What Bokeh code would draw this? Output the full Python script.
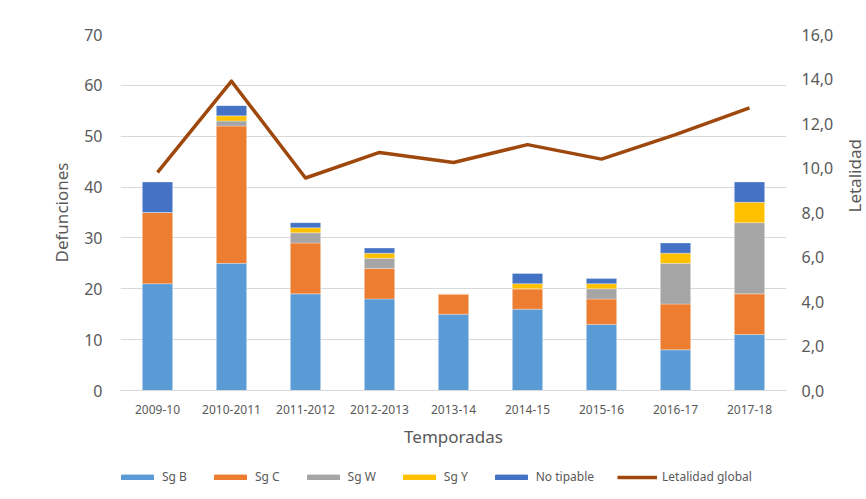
import math
from bokeh.plotting import figure
from bokeh.layouts import column
from bokeh.models import (ColumnDataSource, FactorRange, Range1d, LinearAxis,
                          SingleIntervalTicker, CustomJSTickFormatter, Legend, LegendItem)
from bokeh.embed import file_html
from bokeh.resources import INLINE

temporadas = ["2009-10", "2010-2011", "2011-2012", "2012-2013", "2013-14",
              "2014-15", "2015-16", "2016-17", "2017-18"]
sg_b = [21, 25, 19, 18, 15, 16, 13, 8, 11]
sg_c = [14, 27, 10, 6, 4, 4, 5, 9, 8]
sg_w = [0, 1, 2, 2, 0, 0, 2, 8, 14]
sg_y = [0, 1, 1, 1, 0, 1, 1, 2, 4]
no_tipable = [6, 2, 1, 1, 0, 2, 1, 2, 4]
letalidad = [9.8, 13.9, 9.55, 10.7, 10.25, 11.05, 10.4, 11.5, 12.7]

series = ["Sg B", "Sg C", "Sg W", "Sg Y", "No tipable"]
line_label = "Letalidad global"
colors = ["#5B9BD5", "#ED7D31", "#A5A5A5", "#FFC000", "#4472C4"]
line_color = "#9E480E"

src = ColumnDataSource(dict(x=temporadas, b=sg_b, c=sg_c, w=sg_w, y=sg_y, nt=no_tipable,
                            let=letalidad))

FONT = "Noto Sans"
TXT = "#595959"

p = figure(x_range=FactorRange(*temporadas, range_padding=0), y_range=Range1d(0, 70),
           frame_width=666, frame_height=356, output_backend="svg", toolbar_location=None,
           min_border_left=120, min_border_right=60, min_border_top=34, min_border_bottom=70)
p.extra_y_ranges = {"right": Range1d(0, 16)}

bars = p.vbar_stack(["b", "c", "w", "y", "nt"], x="x", width=0.41, color=colors,
                    line_color="white", line_width=0.5, line_alpha=0.6, source=src)
ln = p.line(x="x", y="let", source=src, y_range_name="right", line_color=line_color,
            line_width=3.5, line_join="round")

p.outline_line_color = None
p.xgrid.grid_line_color = None
p.ygrid.grid_line_color = "#D9D9D9"
p.ygrid.grid_line_width = 1

ax = p.xaxis[0]
ax.axis_line_color = "#D9D9D9"
ax.major_tick_line_color = None
ax.minor_tick_line_color = None
ax.major_label_text_font = FONT
ax.major_label_text_font_size = "12px"
ax.major_label_text_color = TXT
ax.major_label_standoff = 8
ax.axis_label = "Temporadas"
ax.axis_label_text_font = FONT
ax.axis_label_text_font_size = "17px"
ax.axis_label_text_font_style = "normal"
ax.axis_label_text_color = TXT
ax.axis_label_standoff = 8

ly = p.yaxis[0]
ly.ticker = SingleIntervalTicker(interval=10)
ly.axis_line_color = None
ly.major_tick_line_color = None
ly.minor_tick_line_color = None
ly.major_label_text_font = FONT
ly.major_label_text_font_size = "16px"
ly.major_label_text_color = TXT
ly.major_label_standoff = 12
ly.axis_label = "Defunciones"
ly.axis_label_text_font = FONT
ly.axis_label_text_font_size = "17px"
ly.axis_label_text_font_style = "normal"
ly.axis_label_text_color = TXT
ly.axis_label_standoff = 8

ry = LinearAxis(y_range_name="right", ticker=SingleIntervalTicker(interval=2))
ry.formatter = CustomJSTickFormatter(code="return tick.toFixed(1).replace('.', ',');")
ry.axis_line_color = None
ry.major_tick_line_color = None
ry.minor_tick_line_color = None
ry.major_label_text_font = FONT
ry.major_label_text_font_size = "16px"
ry.major_label_text_color = TXT
ry.major_label_standoff = 9
ry.axis_label = "Letalidad"
ry.axis_label_orientation = math.pi / 2
ry.axis_label_text_font = FONT
ry.axis_label_text_font_size = "17px"
ry.axis_label_text_font_style = "normal"
ry.axis_label_text_color = TXT
ry.axis_label_standoff = 18
p.add_layout(ry, "right")

# Legend strip below the chart: zero-size key glyphs (invisible) only carry the legend swatches
leg = figure(width=858, height=39, output_backend="svg", toolbar_location=None,
             x_axis_type=None, y_axis_type=None, min_border=0,
             x_range=Range1d(0, 1), y_range=Range1d(0, 1))
leg.outline_line_color = None
leg.grid.grid_line_color = None
key_src = ColumnDataSource(dict(x=[-10], y=[-10]))
key_renderers = [leg.vbar(x="x", top="y", bottom="y", width=0, color=c, source=key_src)
                 for c in colors]
key_line = leg.line(x="x", y="y", line_color=line_color, line_width=3.5, source=key_src)
items = [LegendItem(label=s, renderers=[r]) for s, r in zip(series, key_renderers)]
items.append(LegendItem(label=line_label, renderers=[key_line]))
legend = Legend(items=items, orientation="horizontal", location=(-3, 14),
                glyph_width=40, glyph_height=6, label_standoff=5, spacing=23,
                padding=0, margin=0, border_line_color=None, background_fill_alpha=0,
                label_text_font=FONT, label_text_font_size="12px", label_text_color=TXT)
leg.add_layout(legend)

open("out.html", "w").write(file_html(column(p, leg, spacing=0), INLINE))
